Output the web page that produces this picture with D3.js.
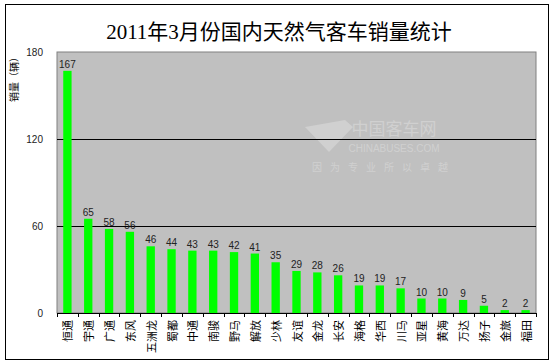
<!DOCTYPE html>
<html>
<head>
<meta charset="utf-8">
<script src="https://cdn.jsdelivr.net/npm/d3@7"></script>
<style>
  body { margin: 0; background: #fff; }
  svg { display: block; }
</style>
</head>
<body>
<div id="chart"></div>
<script>
    const brands = ["恒通", "宇通", "广通", "东风", "五洲龙", "蜀都", "中通", "南骏", "野马", "解放", "少林", "友谊",
                    "金龙", "长安", "海格", "华西", "川马", "亚星", "黄海", "万达", "扬子", "金旅", "福田"];
    const sales = [167, 65, 58, 56, 46, 44, 43, 43, 42, 41, 35, 29, 28, 26, 19, 19, 17, 10, 10, 9, 5, 2, 2];
    const yTicks = [0, 60, 120, 180];
    const title = "2011年3月份国内天然气客车销量统计";
    const yTitle = "销量（辆）";

    const W = 554, H = 364;
    const plot = { left: 57, right: 536, top: 52, bottom: 313 };
    const cnFont = "'Liberation Serif', 'Noto Sans CJK SC', serif";
    const numFont = "'Liberation Sans', Arial, sans-serif";

    const data = brands.map((b, i) => ({ brand: b, value: sales[i] }));

    const svg = d3.select("#chart").append("svg")
        .attr("width", W)
        .attr("height", H);

    // outer frame
    svg.append("rect")
        .attr("x", 5.5).attr("y", 4.5)
        .attr("width", 543).attr("height", 355)
        .attr("fill", "#fff")
        .attr("stroke", "#000")
        .attr("stroke-width", 1);

    svg.append("text")
        .attr("x", W / 2 + 2)
        .attr("y", 39)
        .attr("text-anchor", "middle")
        .style("font-family", cnFont)
        .style("font-size", "21px")
        .style("fill", "#000")
        .text(title);

    const x = d3.scaleBand()
        .domain(brands)
        .range([plot.left, plot.right])
        .paddingInner(0.6)
        .paddingOuter(0.3);

    const y = d3.scaleLinear()
        .domain([0, 180])
        .range([plot.bottom, plot.top]);

    // plot background
    svg.append("rect")
        .attr("x", plot.left).attr("y", plot.top)
        .attr("width", plot.right - plot.left)
        .attr("height", plot.bottom - plot.top)
        .attr("fill", "#c0c0c0")
        .attr("stroke", "#808080")
        .attr("stroke-width", 1);

    // watermark (faint)
    const wm = svg.append("g").attr("opacity", 0.45);
    wm.append("path")
        .attr("d", "M305,127 L345,120 L353,127 L329,152 Z")
        .attr("fill", "#e4e4e4");
    wm.append("text")
        .attr("x", 394).attr("y", 135)
        .attr("text-anchor", "middle")
        .style("font-family", cnFont)
        .style("font-size", "17px")
        .style("fill", "#e4e4e4")
        .text("中国客车网");
    wm.append("text")
        .attr("x", 394).attr("y", 152)
        .attr("text-anchor", "middle")
        .style("font-family", numFont)
        .style("font-size", "10px")
        .style("fill", "#e4e4e4")
        .text("CHINABUSES.COM");
    wm.append("text")
        .attr("x", 384).attr("y", 171)
        .attr("text-anchor", "middle")
        .style("font-family", cnFont)
        .style("font-size", "10px")
        .style("letter-spacing", "8px")
        .style("fill", "#e4e4e4")
        .text("因为专业所以卓越");

    // grid lines
    svg.selectAll(".grid")
        .data(yTicks.filter(d => d > 0 && d < 180))
        .enter()
        .append("line")
            .attr("class", "grid")
            .attr("x1", plot.left)
            .attr("x2", plot.right)
            .attr("y1", d => Math.round(y(d)) + 0.5)
            .attr("y2", d => Math.round(y(d)) + 0.5)
            .attr("stroke", "#000")
            .attr("stroke-width", 1);

    // bars
    svg.selectAll(".bar")
        .data(data)
        .enter()
        .append("rect")
            .attr("class", "bar")
            .attr("x", d => x(d.brand))
            .attr("y", d => y(d.value))
            .attr("width", x.bandwidth())
            .attr("height", d => plot.bottom - y(d.value))
            .attr("fill", "#00ff00");

    // value labels
    svg.selectAll(".val")
        .data(data)
        .enter()
        .append("text")
            .attr("class", "val")
            .attr("x", d => x(d.brand) + x.bandwidth() / 2)
            .attr("y", d => y(d.value) - 3)
            .attr("text-anchor", "middle")
            .style("font-family", numFont)
            .style("font-size", "10px")
            .style("fill", "#222")
            .text(d => d.value);

    // x axis
    const step = x.step();
    const boundaries = d3.range(brands.length + 1).map(i => plot.left + (plot.right - plot.left) * i / brands.length);
    svg.append("line")
        .attr("x1", plot.left).attr("x2", plot.right)
        .attr("y1", plot.bottom + 0.5).attr("y2", plot.bottom + 0.5)
        .attr("stroke", "#000");
    svg.selectAll(".xtick")
        .data(boundaries)
        .enter()
        .append("line")
            .attr("class", "xtick")
            .attr("x1", d => Math.round(d) + 0.5)
            .attr("x2", d => Math.round(d) + 0.5)
            .attr("y1", plot.bottom)
            .attr("y2", plot.bottom + 4)
            .attr("stroke", "#000");

    svg.selectAll(".xlab")
        .data(data)
        .enter()
        .append("text")
            .attr("class", "xlab")
            .attr("transform", d => `translate(${x(d.brand) + x.bandwidth() / 2 + 1},320) rotate(-90)`)
            .attr("text-anchor", "end")
            .attr("dominant-baseline", "central")
            .style("font-family", cnFont)
            .style("font-size", "11px")
            .style("fill", "#000")
            .text(d => d.brand);

    // y axis labels
    svg.selectAll(".ylab")
        .data(yTicks)
        .enter()
        .append("text")
            .attr("class", "ylab")
            .attr("x", 43)
            .attr("y", d => y(d) + 4)
            .attr("text-anchor", "end")
            .style("font-family", numFont)
            .style("font-size", "10px")
            .style("fill", "#222")
            .text(d => d);

    svg.append("text")
        .attr("transform", `translate(14,52) rotate(-90)`)
        .attr("text-anchor", "end")
        .attr("dominant-baseline", "central")
        .style("font-family", cnFont)
        .style("font-size", "10px")
        .style("fill", "#000")
        .text(yTitle);
</script>
</body>
</html>
